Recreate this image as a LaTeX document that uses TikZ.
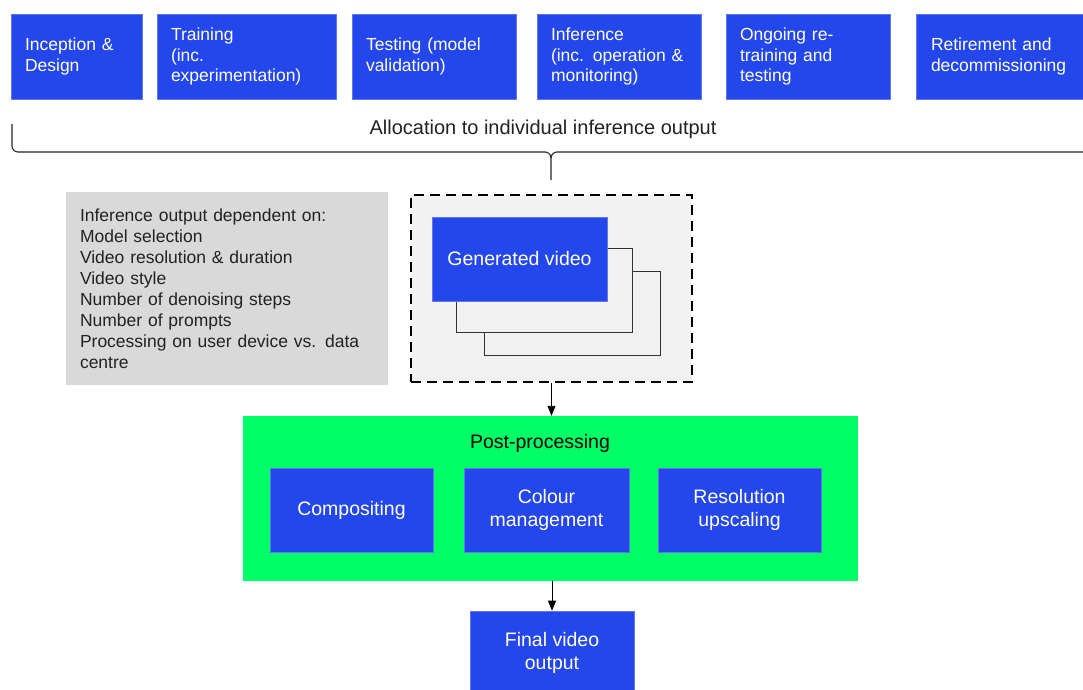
\documentclass[tikz,border=0pt]{standalone}
\usepackage{fontspec}
\setmainfont{Liberation Sans}
\usetikzlibrary{arrows.meta}
\definecolor{boxblue}{RGB}{35,71,235}
\definecolor{boxedge}{RGB}{95,120,242}
\definecolor{ppgreen}{RGB}{0,255,102}
\definecolor{notegray}{RGB}{217,217,217}
\definecolor{panelgray}{RGB}{242,242,242}
\definecolor{inktext}{RGB}{34,34,34}
\begin{document}
\begin{tikzpicture}[x=1pt,y=-1pt,
  stage/.style={fill=boxblue, draw=boxedge, line width=0.6pt, text=white, inner xsep=14pt, inner ysep=0pt,
    align=left, font=\fontsize{17.5}{20.5}\selectfont, minimum height=85pt},
  bluebox/.style={fill=boxblue, draw=boxedge, line width=0.6pt, text=white, align=center,
    font=\fontsize{19.5}{23.5}\selectfont, inner sep=0pt, minimum height=84pt},
  backcard/.style={draw=black!80, fill=panelgray, line width=1pt, inner sep=0pt,
    minimum width=176pt, minimum height=84pt},
  arr/.style={-{Triangle[length=10pt,width=8pt]}, line width=0.9pt, draw=black}]
\useasboundingbox (0,0) rectangle (1083,689);
\clip (0,0) rectangle (1083,689);
\fill[white] (0,0) rectangle (1083,689);

% lifecycle stages
\node[stage, text width=103pt] (s1) at (76.5,56.5) {Inception \&\\Design};
\node[stage, text width=151pt] (s2) at (246.5,56.5) {Training\\(inc.\\experimentation)};
\node[stage, text width=136pt] (s3) at (434,56.5) {Testing (model\\validation)};
\node[stage, text width=136pt] (s4) at (619,56.5) {Inference\\(inc. operation \&\\monitoring)};
\node[stage, text width=136pt] (s5) at (808,56.5) {Ongoing re-\\training and\\testing};
\node[stage, text width=144pt, inner xsep=15pt] (s6) at (1003,56.5) {Retirement and\\decommissioning};

% allocation brace
\node[text=inktext, font=\fontsize{20}{23}\selectfont, inner sep=0pt] (alloc) at (543,129.5) {Allocation to individual inference output};
\draw[line width=1.1pt, black!85] (12,124) -- (12,146) to[out=-90,in=180] (18,152) -- (545,152)
  to[out=0,in=90] (551,158) -- (551,180);
\draw[line width=1.1pt, black!85] (551,158) to[out=90,in=180] (557,152) -- (1083,152);

% note box
\node[fill=notegray, minimum width=322pt, minimum height=193pt, text width=294pt, inner xsep=14pt,
  align=left, text=inktext, font=\fontsize{17.5}{21}\selectfont] (note) at (227,288.5)
  {Inference output dependent on:\\Model selection\\Video resolution \& duration\\Video style\\Number of denoising steps\\Number of prompts\\Processing on user device vs. data\\centre};

% generated video panel
\node[draw=black, dash pattern=on 10pt off 6pt, line width=2.5pt, fill=panelgray,
  minimum width=281pt, minimum height=187pt, inner sep=0pt] (panel) at (551.5,288.5) {};
\node[backcard] (back2) at (572,313) {};
\node[backcard] (back1) at (544,290.5) {};
\node[bluebox, minimum width=175pt] (gen) at (519.5,259) {Generated video};

% post-processing
\node[fill=ppgreen, minimum width=615pt, minimum height=165pt, inner sep=0pt] (post) at (550.5,498.5) {};
\node[text=black, font=\fontsize{19.5}{23}\selectfont, inner sep=0pt] (posttitle) at (540,443) {Post-processing};
\node[bluebox, minimum width=163pt] (comp) at (351.5,510) {Compositing};
\node[bluebox, minimum width=165pt] (colour) at (546.5,510) {Colour\\management};
\node[bluebox, minimum width=163pt] (res) at (739.5,510) {Resolution\\upscaling};

% final output
\node[bluebox, minimum width=164pt] (final) at (552,653) {Final video\\output};

% connectors
\draw[arr] (panel.south) -- (panel.south |- post.north);
\draw[arr] (final.north |- post.south) -- (final.north);
\end{tikzpicture}
\end{document}
